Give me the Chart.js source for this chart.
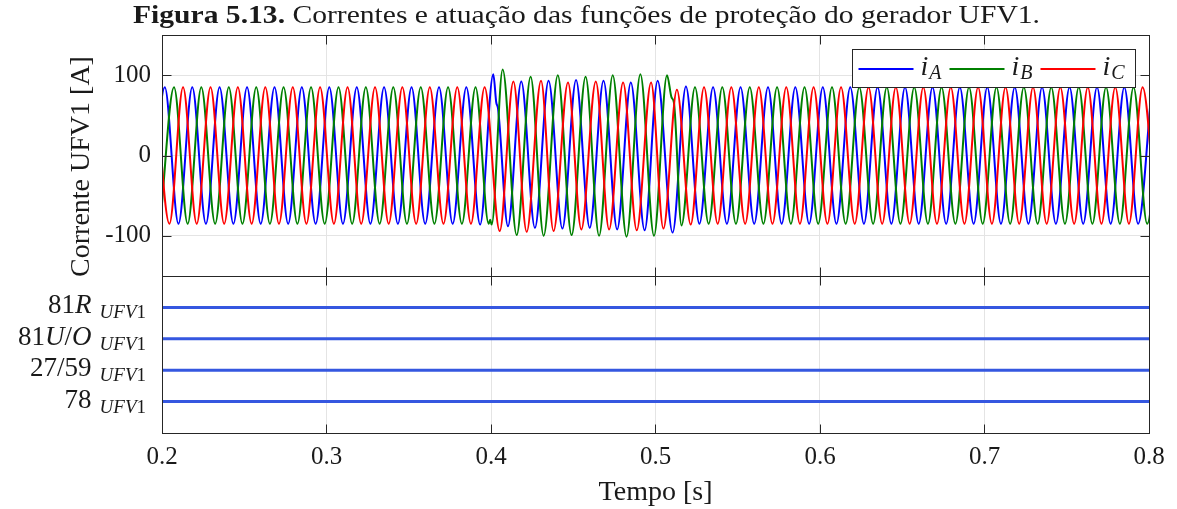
<!DOCTYPE html>
<html lang="pt-BR">
<head>
<meta charset="utf-8">
<title>Correntes e atuação das funções de proteção do gerador UFV1</title>
<script src="https://cdn.jsdelivr.net/npm/chart.js@4.4.1/dist/chart.umd.min.js"></script>
<style>
  html, body { margin: 0; padding: 0; background: #ffffff; }
  #quadro { width: 1177px; height: 509px; position: relative; }
  canvas { display: block; }
</style>
</head>
<body>
<div id="quadro"><canvas id="grafico" width="1177" height="509"></canvas></div>
<script>
// ---------------- textos ----------------
const tituloNegrito = 'Figura 5.13.';
const tituloTexto = ' Correntes e atuação das funções de proteção do gerador UFV1.';
const rotuloEixoY = 'Corrente UFV1 [A]';
const rotuloEixoX = 'Tempo [s]';

// ---------------- eixos ----------------
const ticksTempo = [0.2, 0.3, 0.4, 0.5, 0.6, 0.7, 0.8];
const ticksCorrente = [-100, 0, 100];
const limitesCorrente = [-150, 150];
const limitesTempo = [0.2, 0.8];

// ---------------- correntes de fase: picos e vales ----------------
// instantes [s] dos extremos de cada ciclo e o valor da corrente [A] neles
const tA = [
  0.1934, 0.2017, 0.2100, 0.2184, 0.2267, 0.2350, 0.2434, 0.2517, 0.2600, 0.2684, 0.2767, 0.2850,
  0.2934, 0.3017, 0.3100, 0.3184, 0.3267, 0.3350, 0.3434, 0.3517, 0.3600, 0.3684, 0.3767, 0.3850,
  0.3934, 0.4014, 0.4032, 0.4043, 0.4103, 0.4184, 0.4267, 0.4350, 0.4434, 0.4517, 0.4600, 0.4684,
  0.4767, 0.4850, 0.4934, 0.5013, 0.5104, 0.5185, 0.5267, 0.5350, 0.5434, 0.5517, 0.5600, 0.5684,
  0.5767, 0.5850, 0.5934, 0.6017, 0.6100, 0.6184, 0.6267, 0.6350, 0.6434, 0.6517, 0.6600, 0.6684,
  0.6767, 0.6850, 0.6934, 0.7017, 0.7100, 0.7184, 0.7267, 0.7350, 0.7434, 0.7517, 0.7600, 0.7684,
  0.7767, 0.7850, 0.7934, 0.8017
];
const iA = [
  -85, 85, -85, 85, -85, 85, -85, 85, -85, 85, -85, 85,
  -85, 85, -85, 85, -85, 85, -85, 85, -85, 85, -85, 85,
  -86, 101, 66, 58, -88, 92, -90, 93, -91, 94, -90, 93,
  -92, 91, -93, 93, -96, 86, -85, 85, -85, 85, -85, 85,
  -85, 85, -85, 85, -85, 85, -85, 85, -85, 85, -85, 85,
  -85, 85, -85, 85, -85, 85, -85, 85, -85, 85, -85, 85,
  -85, 85, -85, 85
];

const tB = [
  0.1989, 0.2073, 0.2156, 0.2239, 0.2323, 0.2406, 0.2489, 0.2573, 0.2656, 0.2739, 0.2823, 0.2906,
  0.2989, 0.3073, 0.3156, 0.3239, 0.3323, 0.3406, 0.3489, 0.3573, 0.3656, 0.3739, 0.3823, 0.3906,
  0.3986, 0.3995, 0.4004, 0.4071, 0.4156, 0.4241, 0.4320, 0.4406, 0.4490, 0.4575, 0.4657, 0.4740,
  0.4824, 0.4908, 0.4991, 0.5070, 0.5098, 0.5112, 0.5158, 0.5240, 0.5323, 0.5406, 0.5489, 0.5573,
  0.5656, 0.5739, 0.5823, 0.5906, 0.5989, 0.6073, 0.6156, 0.6239, 0.6323, 0.6406, 0.6489, 0.6573,
  0.6656, 0.6739, 0.6823, 0.6906, 0.6989, 0.7073, 0.7156, 0.7239, 0.7323, 0.7406, 0.7489, 0.7573,
  0.7656, 0.7739, 0.7823, 0.7906, 0.7989, 0.8073
];
const iB = [
  -85, 85, -85, 85, -85, 85, -85, 85, -85, 85, -85, 85,
  -85, 85, -85, 85, -85, 85, -85, 85, -85, 85, -85, 85,
  -85, -80, -86, 107, -99, 98, -100, 100, -99, 98, -100, 100,
  -101, 101, -100, 100, 72, 66, -87, 85, -85, 85, -85, 85,
  -85, 85, -85, 85, -85, 85, -85, 85, -85, 85, -85, 85,
  -85, 85, -85, 85, -85, 85, -85, 85, -85, 85, -85, 85,
  -85, 85, -85, 85, -85, 85
];

const tC = [
  0.1961, 0.2045, 0.2128, 0.2211, 0.2295, 0.2378, 0.2461, 0.2545, 0.2628, 0.2711, 0.2795, 0.2878,
  0.2961, 0.3045, 0.3128, 0.3211, 0.3295, 0.3378, 0.3461, 0.3545, 0.3628, 0.3711, 0.3795, 0.3878,
  0.3961, 0.4053, 0.4136, 0.4217, 0.4304, 0.4380, 0.4468, 0.4549, 0.4637, 0.4718, 0.4803, 0.4886,
  0.4973, 0.5048, 0.5130, 0.5214, 0.5295, 0.5378, 0.5461, 0.5545, 0.5628, 0.5711, 0.5795, 0.5878,
  0.5961, 0.6045, 0.6128, 0.6211, 0.6295, 0.6378, 0.6461, 0.6545, 0.6628, 0.6711, 0.6795, 0.6878,
  0.6961, 0.7045, 0.7128, 0.7211, 0.7295, 0.7378, 0.7461, 0.7545, 0.7628, 0.7711, 0.7795, 0.7878,
  0.7961, 0.8045
];
const iC = [
  85, -85, 85, -85, 85, -85, 85, -85, 85, -85, 85, -85,
  85, -85, 85, -85, 85, -85, 85, -85, 85, -85, 85, -85,
  85, -94, 92, -95, 93, -94, 91, -92, 92, -92, 91, -93,
  91, -91, 82, -86, 85, -85, 85, -85, 85, -85, 85, -85,
  85, -85, 85, -85, 85, -85, 85, -85, 85, -85, 85, -85,
  85, -85, 85, -85, 85, -85, 85, -85, 85, -85, 85, -85,
  85, -85
];

// ---------------- funções de proteção ----------------
const funcoes = ['81R', '81U/O', '27/59', '78'];
const nivelFuncao = [4, 3, 2, 1];
const limitesFuncao = [0, 5];
const subscritoFuncao = 'UFV1';

// ---------------- estilo ----------------
const serif = '"Liberation Serif", "Times New Roman", serif';
const corTexto = '#1a1a1a';
const corEixo = '#262626';
const corGrade = '#e4e4e4';
const corFuncao = '#3557e0';
const fases = [
  { nome: 'A', t: tA, i: iA, cor: '#0000ff', ordem: 3 },
  { nome: 'B', t: tB, i: iB, cor: '#008000', ordem: 2 },
  { nome: 'C', t: tC, i: iC, cor: '#ff0000', ordem: 1 }
];

function pontos(t, v) { return t.map((ti, k) => ({ x: ti, y: v[k] })); }

const conjuntos = fases.map(f => ({
  label: 'i' + f.nome,
  sub: f.nome,
  data: pontos(f.t, f.i),
  yAxisID: 'yI',
  borderColor: f.cor,
  borderWidth: 2,
  pointRadius: 0,
  fill: false,
  cubicInterpolationMode: 'monotone',
  order: f.ordem
}));
funcoes.forEach((nome, k) => {
  conjuntos.push({
    label: nome,
    data: [{ x: limitesTempo[0], y: nivelFuncao[k] }, { x: limitesTempo[1], y: nivelFuncao[k] }],
    yAxisID: 'yP',
    borderColor: corFuncao,
    borderWidth: 3,
    pointRadius: 0,
    fill: false,
    order: 0
  });
});

// texto matemático: letras em itálico, dígitos e símbolos retos
function partes(txt) {
  const out = [];
  for (const ch of txt) {
    const it = /[A-Za-z]/.test(ch);
    if (out.length && out[out.length - 1].it === it) out[out.length - 1].s += ch;
    else out.push({ s: ch, it });
  }
  return out;
}
function fonte(it, tam, negrito) {
  return (it ? 'italic ' : '') + (negrito ? 'bold ' : '') + tam + 'px ' + serif;
}
function larguraMath(ctx, txt, tam) {
  let w = 0;
  for (const p of partes(txt)) { ctx.font = fonte(p.it, tam); w += ctx.measureText(p.s).width; }
  return w;
}
function escreveMath(ctx, txt, x, y, tam) {
  for (const p of partes(txt)) {
    ctx.font = fonte(p.it, tam);
    ctx.fillText(p.s, x, y);
    x += ctx.measureText(p.s).width;
  }
  return x;
}

const desenho = {
  id: 'desenho',
  afterDatasetsDraw(chart) {
    const { ctx } = chart;
    const x = chart.scales.x, yI = chart.scales.yI, yP = chart.scales.yP;
    const L = 9;
    ctx.save();
    ctx.strokeStyle = corEixo;
    ctx.lineWidth = 1;
    const seg = (x1, y1, x2, y2) => { ctx.beginPath(); ctx.moveTo(x1, y1); ctx.lineTo(x2, y2); ctx.stroke(); };
    const xl = Math.round(x.left) + 0.5, xr = Math.round(x.right) + 0.5;
    [yI, yP].forEach(s => {
      const yt = Math.round(s.top) + 0.5, yb = Math.round(s.bottom) + 0.5;
      ticksTempo.forEach(t => {
        const px = Math.round(x.getPixelForValue(t)) + 0.5;
        seg(px, yt, px, yt + L);
        seg(px, yb, px, yb - L);
      });
      ctx.strokeRect(xl, yt, xr - xl, yb - yt);
    });
    ticksCorrente.forEach(v => {
      const py = Math.round(yI.getPixelForValue(v)) + 0.5;
      seg(xl, py, xl + L, py);
      seg(xr, py, xr - L, py);
    });
    ctx.restore();
  },
  afterDraw(chart) {
    const { ctx } = chart;
    const x = chart.scales.x, yI = chart.scales.yI, yP = chart.scales.yP;
    ctx.save();
    ctx.fillStyle = corTexto;
    ctx.textBaseline = 'alphabetic';
    ctx.textAlign = 'left';

    // título da figura, ajustado à largura da linha de texto
    const tamTit = 25, iniTit = 133, larguraTit = 907;
    ctx.font = fonte(false, tamTit, true);
    const wN = ctx.measureText(tituloNegrito).width;
    ctx.font = fonte(false, tamTit, false);
    const wT = ctx.measureText(tituloTexto).width;
    const esc = larguraTit / (wN + wT);
    ctx.save();
    ctx.translate(iniTit, 23);
    ctx.scale(esc, 1);
    ctx.font = fonte(false, tamTit, true);
    ctx.fillText(tituloNegrito, 0, 0);
    ctx.font = fonte(false, tamTit, false);
    ctx.fillText(tituloTexto, wN, 0);
    ctx.restore();

    // rótulo do eixo vertical
    ctx.save();
    ctx.translate(82, (yI.top + yI.bottom) / 2 + 11);
    ctx.rotate(-Math.PI / 2);
    ctx.textAlign = 'center';
    ctx.textBaseline = 'middle';
    ctx.font = fonte(false, 28);
    ctx.fillText(rotuloEixoY, 0, 0);
    ctx.restore();

    // rótulo do eixo do tempo
    ctx.textAlign = 'center';
    ctx.font = fonte(false, 28);
    ctx.fillText(rotuloEixoX, (x.left + x.right) / 2, 500);

    // nomes das funções de proteção
    ctx.textAlign = 'left';
    const tamF = 27, tamS = 19, folga = 8;
    funcoes.forEach((nome, k) => {
      const py = yP.getPixelForValue(nivelFuncao[k]);
      const w = larguraMath(ctx, nome, tamF) + folga + larguraMath(ctx, subscritoFuncao, tamS);
      let px = x.left - 16 - w;
      px = escreveMath(ctx, nome, px, py + 6, tamF) + folga;
      escreveMath(ctx, subscritoFuncao, px, py + 11, tamS);
    });

    // legenda
    const bx = 852.5, by = 49.5, bw = 283, bh = 38;
    ctx.fillStyle = '#ffffff';
    ctx.fillRect(bx, by, bw, bh);
    ctx.strokeStyle = corEixo;
    ctx.lineWidth = 1;
    ctx.strokeRect(bx, by, bw, bh);
    let lx = bx + 6;
    const ly = by + 19.5;
    chart.data.datasets.slice(0, fases.length).forEach(ds => {
      ctx.strokeStyle = ds.borderColor;
      ctx.lineWidth = 2;
      ctx.beginPath(); ctx.moveTo(lx, ly); ctx.lineTo(lx + 55, ly); ctx.stroke();
      lx += 62;
      ctx.fillStyle = corTexto;
      ctx.font = fonte(true, 28);
      ctx.fillText('i', lx, ly + 6);
      lx += ctx.measureText('i').width + 1;
      ctx.font = fonte(true, 20);
      ctx.fillText(ds.sub, lx, ly + 10);
      lx += ctx.measureText(ds.sub).width + 8;
    });
    ctx.restore();
  }
};

new Chart(document.getElementById('grafico'), {
  type: 'line',
  data: { datasets: conjuntos },
  options: {
    responsive: false,
    animation: false,
    devicePixelRatio: 1,
    layout: { padding: { top: 35, right: 28, bottom: 0, left: 0 } },
    plugins: { legend: { display: false }, tooltip: { enabled: false }, title: { display: false } },
    scales: {
      x: {
        type: 'linear',
        position: 'bottom',
        min: limitesTempo[0],
        max: limitesTempo[1],
        afterBuildTicks: s => { s.ticks = ticksTempo.map(v => ({ value: v })); },
        afterFit: s => { s.height = 76; },
        grid: { color: corGrade, lineWidth: 1, drawTicks: false },
        border: { display: false },
        ticks: {
          font: { family: serif, size: 25 },
          color: corTexto,
          padding: 9,
          maxRotation: 0,
          autoSkip: false,
          callback: v => Number(v).toFixed(1)
        }
      },
      // painel inferior (funções de proteção)
      yP: {
        type: 'linear',
        position: 'left',
        stack: 'painel',
        stackWeight: 157,
        min: limitesFuncao[0],
        max: limitesFuncao[1],
        afterFit: s => { s.width = 162; },
        grid: { display: false },
        border: { display: false },
        ticks: { display: false }
      },
      // painel superior (correntes)
      yI: {
        type: 'linear',
        position: 'left',
        stack: 'painel',
        stackWeight: 241,
        min: limitesCorrente[0],
        max: limitesCorrente[1],
        afterBuildTicks: s => { s.ticks = ticksCorrente.map(v => ({ value: v })); },
        afterFit: s => { s.width = 162; },
        grid: { color: corGrade, lineWidth: 1, drawTicks: false },
        border: { display: false },
        ticks: {
          font: { family: serif, size: 25 },
          color: corTexto,
          padding: 11,
          callback: v => String(v)
        }
      }
    }
  },
  plugins: [desenho]
});
</script>
</body>
</html>
